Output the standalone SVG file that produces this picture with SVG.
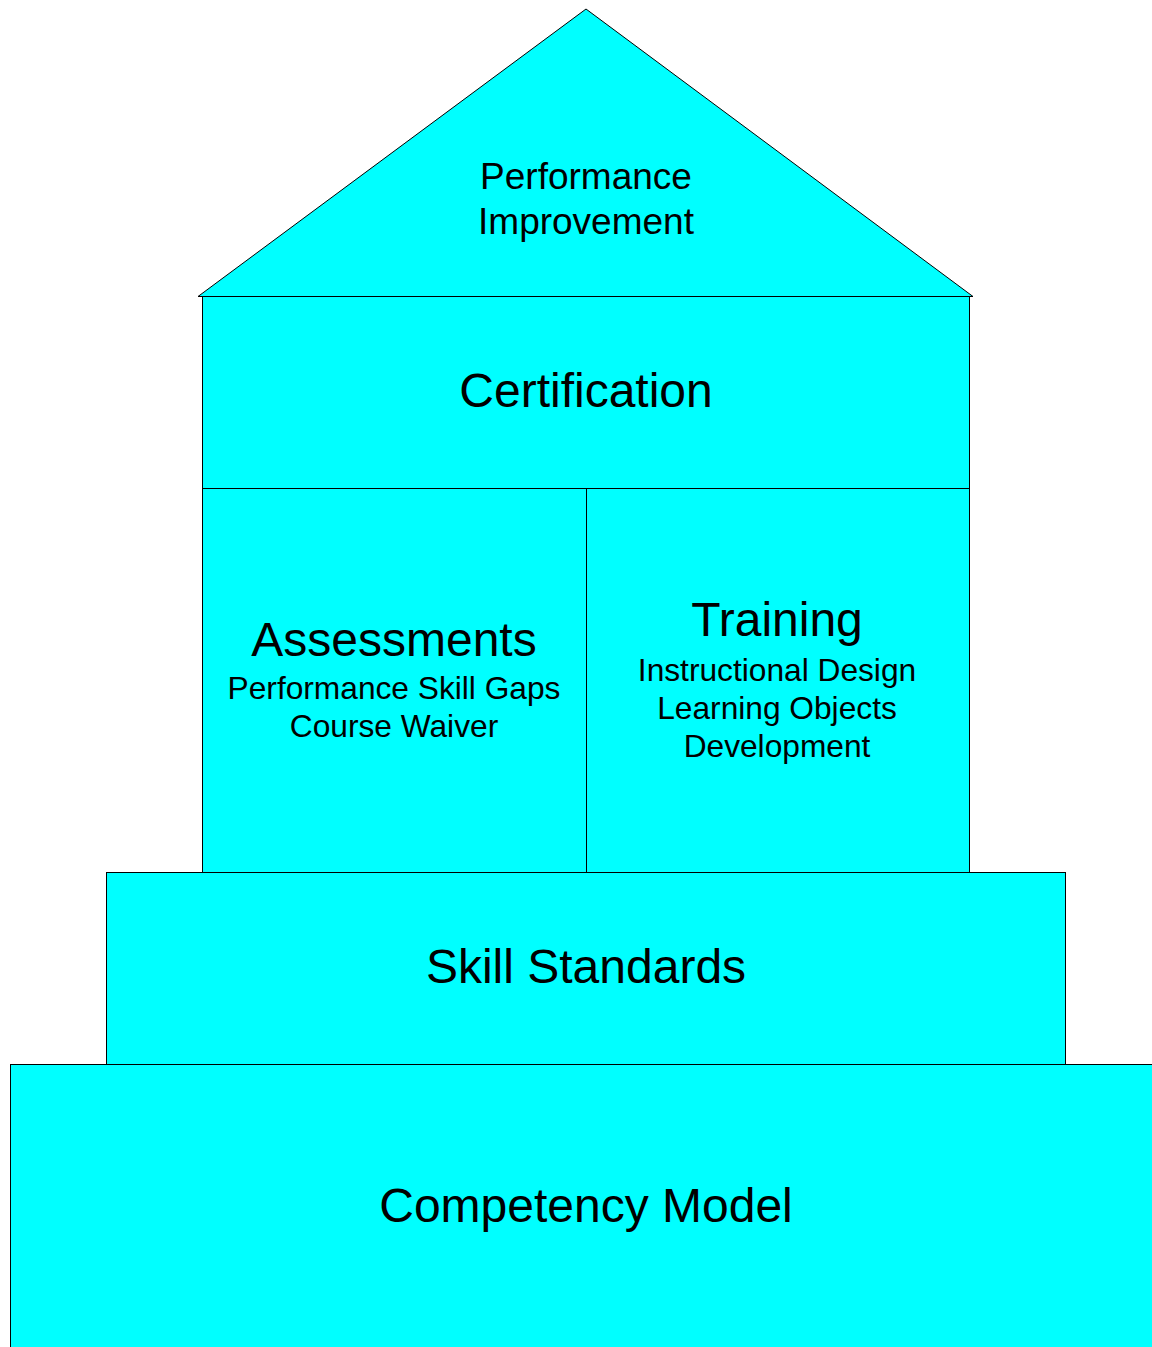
<svg xmlns="http://www.w3.org/2000/svg" width="1152" height="1347" viewBox="0 0 1152 1347">
<style>
.s{fill:#00FFFF;stroke:#000;stroke-width:1}
text{font-family:"Liberation Sans",Arial,sans-serif;fill:#000;text-anchor:middle}
.b{font-size:48px}
.m{font-size:37px}
.t{font-size:31.7px}
</style>
<rect width="1152" height="1347" fill="#fff"/>
<g id="competency"><rect class="s" x="10.5" y="1064.5" width="1150" height="300"/><text class="b" x="586" y="1222">Competency Model</text></g>
<g id="skill"><rect class="s" x="106.5" y="872.5" width="959" height="192"/><text class="b" x="586" y="983">Skill Standards</text></g>
<g id="assessments"><rect class="s" x="202.5" y="488.5" width="384" height="384"/><text class="b" x="394" y="656">Assessments</text><text class="t" x="394" y="699">Performance Skill Gaps</text><text class="t" x="394" y="737">Course Waiver</text></g>
<g id="training"><rect class="s" x="586.5" y="488.5" width="383" height="384"/><text class="b" x="777" y="636">Training</text><text class="t" x="777" y="681">Instructional Design</text><text class="t" x="777" y="719">Learning Objects</text><text class="t" x="777" y="757">Development</text></g>
<g id="certification"><rect class="s" x="202.5" y="296.5" width="767" height="192"/><text class="b" x="586" y="407">Certification</text></g>
<g id="roof"><polygon class="s" points="586,9 973,296.5 198,296.5"/><text class="m" x="586" y="189">Performance</text><text class="m" x="586" y="234">Improvement</text></g>
<g id="connectors"></g>
</svg>
